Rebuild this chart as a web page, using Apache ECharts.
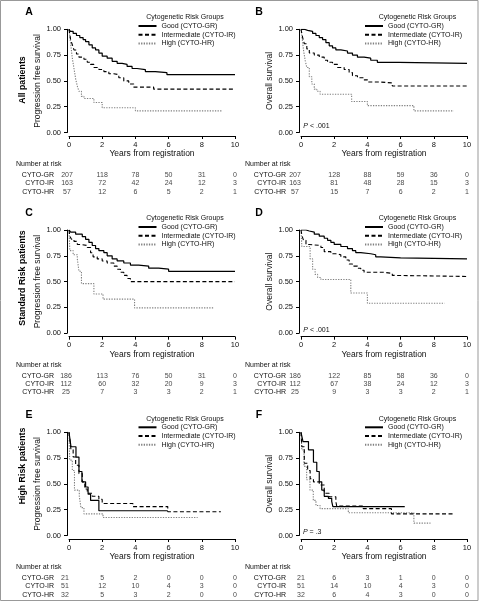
<!DOCTYPE html>
<html><head><meta charset="utf-8">
<script src="https://cdn.jsdelivr.net/npm/echarts@6/dist/echarts.min.js"></script>
<style>html,body{margin:0;padding:0;background:#fff}#c{width:479px;height:606px}</style>
</head><body><div id="c"></div>
<script>
// ---------- DATA ----------
const groupNames = ['Good (CYTO-GR)', 'Intermediate (CYTO-IR)', 'High (CYTO-HR)'];
const groupCodes = ['CYTO-GR', 'CYTO-IR', 'CYTO-HR'];
const riskTimes = [0, 2, 4, 6, 8, 10];
const xTickInterval = 2;
const yTickInterval = 0.25;
const legendTitle = 'Cytogenetic Risk Groups';
const xAxisTitle = 'Years from registration';
const riskTitle = 'Number at risk';
const rowTitles = ['All patients', 'Standard Risk patients', 'High Risk patients'];
const panelLetters = ['A', 'B', 'C', 'D', 'E', 'F'];
const yTitles = ['Progression free survival', 'Overall survival', 'Progression free survival', 'Overall survival', 'Progression free survival', 'Overall survival'];
const pTexts = [null, '{i|P} < .001', null, '{i|P} < .001', null, '{i|P} = .3'];

// Panel A: all patients, PFS  [years, survival]
const A_GR = [[0,1],[0.08,0.98],[0.25,0.96],[0.45,0.94],[0.65,0.92],[0.85,0.9],[1.0,0.88],[1.2,0.85],[1.4,0.82],[1.6,0.8],[1.8,0.77],[2.0,0.74],[2.3,0.72],[2.6,0.69],[2.9,0.67],[3.2,0.66],[3.5,0.64],[3.8,0.62],[4.1,0.61],[4.6,0.59],[5.2,0.58],[5.9,0.56],[10,0.56]];
const A_IR = [[0,1],[0.05,0.95],[0.1,0.9],[0.2,0.85],[0.3,0.8],[0.45,0.76],[0.6,0.73],[0.9,0.71],[1.1,0.68],[1.3,0.66],[1.5,0.63],[1.8,0.61],[2.1,0.59],[2.4,0.57],[2.7,0.56],[3.0,0.53],[3.3,0.5],[3.6,0.47],[3.9,0.44],[5.1,0.42],[10,0.42]];
const A_HR = [[0,1],[0.05,0.93],[0.1,0.86],[0.2,0.72],[0.3,0.62],[0.4,0.52],[0.5,0.45],[0.6,0.4],[0.75,0.35],[0.9,0.33],[1.5,0.29],[2.0,0.24],[4.0,0.21],[9.2,0.21]];
// Panel B: all patients, OS
const B_GR = [[0,1],[0.2,0.99],[0.4,0.98],[0.7,0.96],[0.9,0.94],[1.1,0.92],[1.3,0.9],[1.5,0.87],[1.7,0.84],[1.9,0.82],[2.1,0.8],[2.4,0.79],[2.8,0.77],[3.1,0.75],[3.4,0.73],[3.8,0.72],[4.2,0.7],[4.6,0.68],[5.9,0.67],[10,0.67]];
const B_IR = [[0,1],[0.1,0.92],[0.2,0.86],[0.35,0.81],[0.5,0.77],[0.8,0.75],[1.1,0.73],[1.4,0.7],[1.6,0.68],[1.9,0.66],[2.2,0.63],[2.6,0.61],[2.9,0.58],[3.1,0.55],[3.4,0.53],[3.8,0.51],[4.0,0.49],[4.7,0.48],[5.5,0.45],[10,0.45]];
const B_HR = [[0,1],[0.08,0.9],[0.15,0.8],[0.25,0.7],[0.35,0.63],[0.5,0.54],[0.65,0.47],[0.8,0.42],[0.95,0.4],[1.15,0.37],[3.05,0.3],[4.0,0.26],[6.8,0.21],[9.2,0.21]];
// Panel C: standard risk, PFS
const C_GR = [[0,1],[0.1,0.98],[0.4,0.96],[0.8,0.935],[1.0,0.91],[1.2,0.88],[1.4,0.85],[1.6,0.82],[1.8,0.8],[2.1,0.78],[2.3,0.75],[2.6,0.72],[2.9,0.7],[3.3,0.68],[3.7,0.66],[4.2,0.65],[4.8,0.63],[5.4,0.62],[6.0,0.6],[10,0.6]];
const C_IR = [[0,1],[0.05,0.94],[0.15,0.91],[0.3,0.89],[0.5,0.86],[0.7,0.85],[1.1,0.83],[1.3,0.78],[1.45,0.74],[1.7,0.72],[2.0,0.7],[2.3,0.68],[2.7,0.65],[2.9,0.62],[3.1,0.59],[3.3,0.56],[3.5,0.53],[3.7,0.5],[10,0.5]];
const C_HR = [[0,1],[0.05,0.8],[0.25,0.76],[0.5,0.72],[0.6,0.6],[0.75,0.48],[1.5,0.38],[2.05,0.33],[3.95,0.245],[8.7,0.245]];
// Panel D: standard risk, OS
const D_GR = [[0,1],[0.3,0.99],[0.5,0.98],[0.8,0.96],[1.1,0.94],[1.4,0.92],[1.6,0.9],[1.8,0.88],[2.0,0.86],[2.4,0.84],[2.8,0.82],[3.1,0.8],[3.3,0.78],[3.6,0.77],[4.2,0.76],[4.5,0.74],[4.8,0.73],[6.0,0.72],[10,0.72]];
const D_IR = [[0,1],[0.05,0.95],[0.15,0.9],[0.3,0.86],[0.5,0.85],[1.2,0.83],[1.4,0.79],[1.8,0.77],[2.1,0.76],[2.4,0.74],[2.7,0.71],[2.9,0.67],[3.1,0.65],[3.4,0.63],[3.6,0.61],[3.8,0.59],[5.0,0.58],[5.5,0.56],[5.7,0.55],[10,0.55]];
const D_HR = [[0,1],[0.05,0.84],[0.55,0.72],[0.7,0.62],[0.85,0.57],[1.0,0.54],[1.2,0.52],[3.0,0.39],[4.0,0.29],[8.65,0.29]];
// Panel E: high risk, PFS
const E_GR = [[0,1],[0.12,0.86],[0.42,0.76],[0.6,0.62],[0.78,0.52],[1.0,0.47],[1.15,0.4],[1.3,0.34],[1.8,0.24],[5.95,0.24]];
const E_IR = [[0,1],[0.06,0.92],[0.12,0.83],[0.25,0.76],[0.4,0.68],[0.6,0.6],[0.8,0.52],[0.95,0.45],[1.1,0.41],[1.4,0.38],[1.8,0.35],[2.0,0.31],[3.85,0.28],[5.95,0.23],[9.15,0.23]];
const E_HR = [[0,1],[0.04,0.73],[0.2,0.63],[0.33,0.44],[0.62,0.38],[0.72,0.27],[0.9,0.21],[2.05,0.175],[7.75,0.175]];
// Panel F: high risk, OS
const F_GR = [[0,1],[0.12,0.91],[0.45,0.83],[0.75,0.71],[0.95,0.62],[1.1,0.52],[1.25,0.44],[1.4,0.38],[1.65,0.36],[1.85,0.33],[1.92,0.28],[6.25,0.28]];
const F_IR = [[0,1],[0.05,0.86],[0.2,0.7],[0.4,0.63],[0.55,0.55],[0.75,0.52],[1.1,0.49],[1.4,0.41],[1.7,0.375],[2.1,0.33],[2.15,0.285],[3.75,0.26],[5.45,0.21],[9.2,0.21]];
const F_HR = [[0,1],[0.05,0.83],[0.18,0.67],[0.34,0.54],[0.54,0.44],[0.74,0.34],[0.9,0.29],[1.15,0.26],[2.85,0.22],[6.8,0.12],[7.8,0.12]];

// Numbers at risk (columns = riskTimes)
const A_riskGR = [207,118,78,50,31,0], A_riskIR = [163,72,42,24,12,3], A_riskHR = [57,12,6,5,2,1];
const B_riskGR = [207,128,88,59,36,0], B_riskIR = [163,81,48,28,15,3], B_riskHR = [57,15,7,6,2,1];
const C_riskGR = [186,113,76,50,31,0], C_riskIR = [112,60,32,20,9,3], C_riskHR = [25,7,3,3,2,1];
const D_riskGR = [186,122,85,58,36,0], D_riskIR = [112,67,38,24,12,3], D_riskHR = [25,9,3,3,2,1];
const E_riskGR = [21,5,2,0,0,0], E_riskIR = [51,12,10,4,3,0], E_riskHR = [32,5,3,2,0,0];
const F_riskGR = [21,6,3,1,0,0], F_riskIR = [51,14,10,4,3,0], F_riskHR = [32,6,4,3,0,0];

const curves = [[A_GR,A_IR,A_HR],[B_GR,B_IR,B_HR],[C_GR,C_IR,C_HR],[D_GR,D_IR,D_HR],[E_GR,E_IR,E_HR],[F_GR,F_IR,F_HR]];
const risks = [[A_riskGR,A_riskIR,A_riskHR],[B_riskGR,B_riskIR,B_riskHR],[C_riskGR,C_riskIR,C_riskHR],[D_riskGR,D_riskIR,D_riskHR],[E_riskGR,E_riskIR,E_riskHR],[F_riskGR,F_riskIR,F_riskHR]];

// ---------- LAYOUT / STYLE ----------
const FONT = 'Liberation Sans';
const colLeft = [69, 301];
const rowTop = [29.3, 230, 432.3];
const plotW = 166, plotH = 103.2;
const legendTextX = [160.5, 387];
const legendTitleX = [185, 417.5];
const legendFirstY = [26, 227, 427.3];
const legendTitleY = [17.3, 218.3, 419];
const firstColShift = [-2, -6, -3, -6, -4, 0];
const pPos = [null, [303.3, 126], null, [303.3, 330.5], null, [303, 532.5]];
const lineStyles = [
  {color: '#000', width: 1.2, type: 'solid'},
  {color: '#000', width: 1.1, type: [4, 2.5]},
  {color: '#808080', width: 1.1, type: [1.3, 1.3]}
];

const grid = [], xAxis = [], yAxis = [], series = [], legend = [], graphic = [];

graphic.push({type: 'rect', shape: {x: 0.5, y: 0.5, width: 477.5, height: 600}, style: {fill: 'none', stroke: '#999', lineWidth: 1}, silent: true});

for (let i = 0; i < 6; i++) {
  const c = i % 2, r = Math.floor(i / 2);
  const L = colLeft[c], T = rowTop[r];
  // plot grid
  grid.push({left: L, top: T, width: plotW, height: plotH, containLabel: false});
  xAxis.push({
    gridIndex: 2 * i, type: 'value', min: 0, max: 10, interval: xTickInterval,
    offset: 3.5,
    axisLine: {show: true, onZero: false, lineStyle: {color: '#000', width: 1}},
    axisTick: {show: true, length: 3, lineStyle: {color: '#000', width: 1}},
    axisLabel: {fontSize: 7.5, color: '#111', margin: 4.5, fontFamily: FONT},
    splitLine: {show: false},
    name: xAxisTitle, nameLocation: 'middle', nameGap: 13.5,
    nameTextStyle: {fontSize: 8.5, color: '#111', fontFamily: FONT}
  });
  yAxis.push({
    gridIndex: 2 * i, type: 'value', min: 0, max: 1, interval: yTickInterval,
    offset: 2,
    axisLine: {show: true, onZero: false, lineStyle: {color: '#000', width: 1}},
    axisTick: {show: true, length: 3, lineStyle: {color: '#000', width: 1}},
    axisLabel: {fontSize: 7.5, color: '#111', margin: 6, fontFamily: FONT, formatter: v => v.toFixed(2)},
    splitLine: {show: false},
    name: yTitles[i], nameLocation: 'middle', nameGap: 23,
    nameTextStyle: {fontSize: 8.5, color: '#111', fontFamily: FONT}
  });
  // at-risk table grid
  const rowH = 8.2;
  grid.push({left: L, top: T + 146 - rowH / 2, width: plotW, height: rowH * 3});
  xAxis.push({gridIndex: 2 * i + 1, type: 'value', min: 0, max: 10, show: false});
  yAxis.push({
    gridIndex: 2 * i + 1, type: 'category', data: groupCodes, inverse: true,
    axisLine: {show: false}, axisTick: {show: false}, splitLine: {show: false},
    axisLabel: {fontSize: 7, color: '#111', margin: 15, fontFamily: FONT, interval: 0, hideOverlap: false}
  });
  // curves
  for (let g = 0; g < 3; g++) {
    series.push({
      type: 'line', name: groupNames[g], step: 'end', symbol: 'none', showSymbol: false,
      xAxisIndex: 2 * i, yAxisIndex: 2 * i, data: curves[i][g],
      lineStyle: lineStyles[g], itemStyle: {color: lineStyles[g].color},
      silent: true, animation: false, z: 3 - g
    });
  }
  // at-risk numbers
  const tbl = [];
  for (let g = 0; g < 3; g++) {
    risks[i][g].forEach((v, k) => {
      const item = {value: [riskTimes[k], groupCodes[g], v]};
      if (k === 0) item.label = {offset: [firstColShift[i], 0]};
      tbl.push(item);
    });
  }
  series.push({
    type: 'scatter', xAxisIndex: 2 * i + 1, yAxisIndex: 2 * i + 1, data: tbl,
    symbolSize: 1, itemStyle: {color: 'rgba(0,0,0,0)'}, silent: true, animation: false,
    label: {show: true, position: 'inside', formatter: p => String(p.value[2]), fontSize: 7, color: '#111', fontFamily: FONT}
  });
  // legend
  legend.push({
    data: groupNames, orient: 'vertical', left: legendTextX[c] - 18 - 5, top: legendFirstY[r] - 4.35,
    itemWidth: 18, itemHeight: 8, itemGap: 0, padding: 0, selectedMode: false,
    itemStyle: {color: 'rgba(0,0,0,0)', borderColor: 'rgba(0,0,0,0)', borderWidth: 0, opacity: 0},
    textStyle: {fontSize: 7, color: '#111', fontFamily: FONT, lineHeight: 8.7}
  });
  graphic.push({type: 'text', x: legendTitleX[c], y: legendTitleY[r], silent: true,
    style: {text: legendTitle, fontSize: 7, fontFamily: FONT, fill: '#111', textAlign: 'center', textVerticalAlign: 'middle'}});
  // panel letter
  graphic.push({type: 'text', x: c === 0 ? 29 : 259, y: T - 16.8, silent: true,
    style: {text: panelLetters[i], fontSize: 10.5, fontWeight: 'bold', fontFamily: FONT, fill: '#000', textAlign: 'center', textVerticalAlign: 'middle'}});
  // Number at risk title
  graphic.push({type: 'text', x: c === 0 ? 16 : 245, y: T + 135, silent: true,
    style: {text: riskTitle, fontSize: 7, fontFamily: FONT, fill: '#111', textAlign: 'left', textVerticalAlign: 'middle'}});
  // p-value
  if (pTexts[i]) {
    graphic.push({type: 'text', x: pPos[i][0], y: pPos[i][1], silent: true,
      style: {text: pTexts[i], fontSize: 7, fontFamily: FONT, fill: '#111', textAlign: 'left', textVerticalAlign: 'middle',
        rich: {i: {fontStyle: 'italic', fontSize: 7, fontFamily: FONT, fill: '#111'}}}});
  }
}
// row titles (rotated)
const rowTitleY = [80, 278, 466];
rowTitles.forEach((t, r) => {
  graphic.push({type: 'text', x: 22.5, y: rowTitleY[r], rotation: Math.PI / 2, silent: true,
    style: {text: t, fontSize: 8.8, fontWeight: 'bold', fontFamily: FONT, fill: '#000', textAlign: 'center', textVerticalAlign: 'middle'}});
});

const chart = echarts.init(document.getElementById('c'), null, {renderer: 'canvas'});
chart.setOption({
  animation: false,
  backgroundColor: '#fff',
  textStyle: {fontFamily: FONT},
  grid, xAxis, yAxis, series, legend, graphic
});
</script></body></html>
